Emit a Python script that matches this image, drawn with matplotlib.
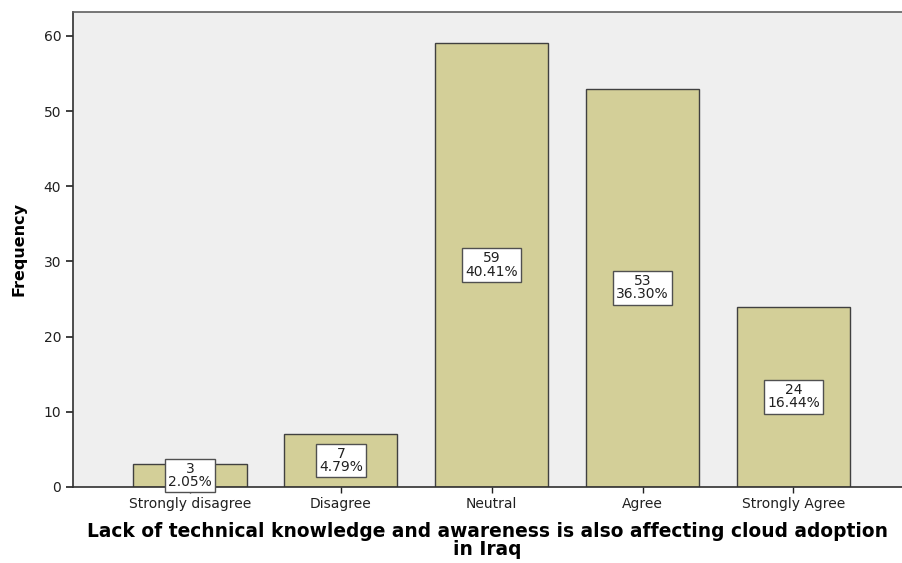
import matplotlib.pyplot as plt
import numpy as np

# data
categories = ["Strongly disagree", "Disagree", "Neutral", "Agree", "Strongly Agree"]
counts = [3, 7, 59, 53, 24]
percents = ["2.05%", "4.79%", "40.41%", "36.30%", "16.44%"]

plt.rcParams['font.family'] = ['DejaVu Sans']

fig = plt.figure(figsize=(9.02, 5.63), dpi=100)
ax = fig.add_axes([0.081, 0.135, 0.919, 0.844])
ax.set_facecolor('#efefef')

x = np.arange(len(categories))
bars = ax.bar(x, counts, width=0.75, color='#d3cf98', edgecolor='#404040', linewidth=1.0, zorder=2)

# value labels in white boxes at mid height of each bar
for xi, c, p in zip(x, counts, percents):
    ax.text(xi, c / 2, str(c) + "\n" + p, ha='center', va='center', fontsize=10,
            color='#202020', linespacing=0.95, zorder=3,
            bbox=dict(boxstyle='square,pad=0.22', facecolor='white', edgecolor='#505050', linewidth=1.0))

ax.set_xlim(-0.775, 4.72)
ax.set_ylim(0, 63.2)
ax.set_xticks(x)
ax.set_xticklabels(categories, fontsize=10, color='#202020')
ax.set_yticks([0, 10, 20, 30, 40, 50, 60])
ax.tick_params(axis='y', labelsize=10, length=5, width=1.2, colors='#202020')
ax.tick_params(axis='x', length=4, width=1.0, colors='#202020', pad=3)

for s in ['left', 'bottom']:
    ax.spines[s].set_color('#303030')
    ax.spines[s].set_linewidth(1.2)
ax.spines['top'].set_color('#606060')
ax.spines['top'].set_linewidth(1.2)
ax.spines['right'].set_visible(False)

ax.set_ylabel("Frequency", fontsize=11.5, fontweight='bold', labelpad=12)
ax.set_xlabel("Lack of technical knowledge and awareness is also affecting cloud adoption\nin Iraq",
              fontsize=13.4, fontweight='bold', linespacing=0.92, labelpad=8)

fig.savefig("out.png", dpi=100)
